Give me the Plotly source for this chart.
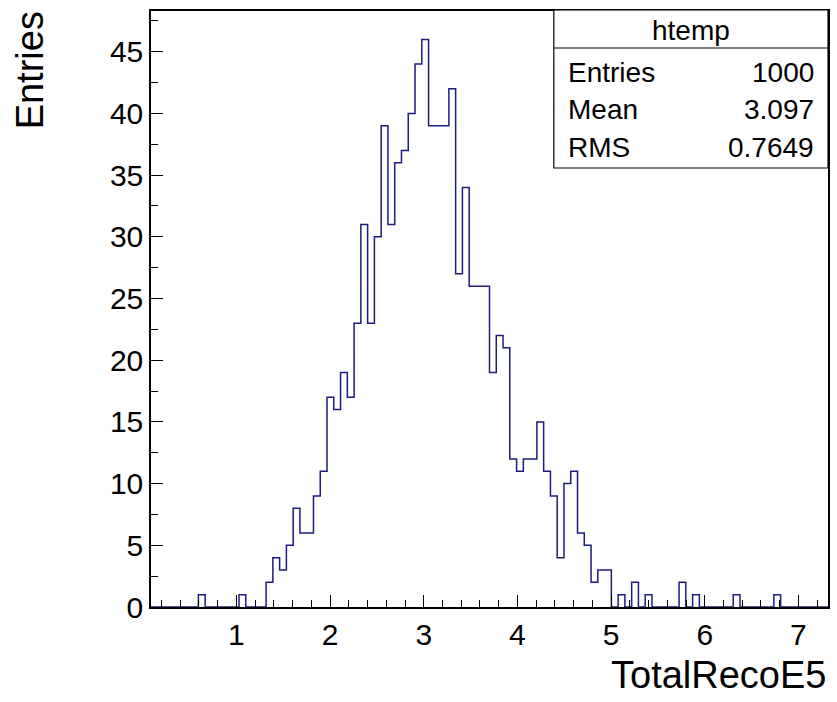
import plotly.graph_objects as go

# ---- data ----
x_min = 0.088
x_max = 7.316
counts = [
    0, 0, 0, 0, 0, 0, 0, 1, 0, 0,
    0, 0, 0, 1, 0, 0, 0, 2, 4, 3,
    5, 8, 6, 6, 9, 11, 17, 16, 19, 17,
    23, 31, 23, 30, 39, 31, 36, 37, 40, 44,
    46, 39, 39, 39, 42, 27, 34, 26, 26, 26,
    19, 22, 21, 12, 11, 12, 12, 15, 11, 9,
    4, 10, 11, 6, 5, 2, 3, 3, 0, 1,
    0, 2, 0, 1, 0, 0, 0, 0, 2, 0,
    1, 0, 0, 0, 0, 0, 1, 0, 0, 0,
    0, 0, 1, 0, 0, 0, 0, 0, 0, 0,
]
y_max = 48.3
x_title = "TotalRecoE5"
y_title = "Entries"
stats_title = "htemp"
stats_labels = ["Entries", "Mean", "RMS"]
stats_values = ["1000", "3.097", "0.7649"]

# ---- build step outline ----
nbins = len(counts)
bw = (x_max - x_min) / nbins
edges = [x_min + i * bw for i in range(nbins + 1)]
ys = counts + [counts[-1]]

FONT = "Liberation Sans, Arial, Helvetica, sans-serif"
W, H = 837, 702
L, R, T, B = 151, 7, 11, 95
pw, ph = W - L - R, H - T - B

def px(x):
    return (x - L) / pw

def py(y):
    return (H - B - y) / ph

fig = go.Figure()
fig.add_trace(go.Scatter(
    x=edges, y=ys, mode="lines", line_shape="hv",
    line=dict(color="#1c1c80", width=1.5),
    hoverinfo="skip", showlegend=False,
))

axis_common = dict(
    showline=True, linecolor="black", linewidth=1.5, mirror=True,
    showgrid=False, zeroline=False, ticks="inside", tickcolor="black",
    tickwidth=1, tickfont=dict(family=FONT, size=30, color="black"),
)
fig.update_xaxes(
    range=[x_min, x_max], tickmode="linear", tick0=0, dtick=1, ticklen=12,
    minor=dict(ticks="inside", ticklen=7, tick0=0, dtick=0.2, tickcolor="black"),
    **axis_common,
)
fig.update_yaxes(
    range=[0, y_max], tickmode="linear", tick0=0, dtick=5, ticklen=12,
    minor=dict(ticks="inside", ticklen=7, tick0=0, dtick=2.5, tickcolor="black"),
    **axis_common,
)

shapes = [
    dict(type="rect", xref="paper", yref="paper", x0=px(555), x1=1.0,
         y0=py(168), y1=py(10), line=dict(color="black", width=1.2),
         fillcolor="white", layer="above"),
    dict(type="line", xref="paper", yref="paper", x0=px(555), x1=1.0,
         y0=py(48), y1=py(48), line=dict(color="black", width=1.2)),
]

annotations = [
    dict(text=stats_title, xref="paper", yref="paper", x=(px(555) + 1.0) / 2,
         y=py(30), xanchor="center", yanchor="middle", showarrow=False,
         font=dict(family=FONT, size=28, color="black")),
    dict(text=y_title, xref="paper", yref="paper", x=px(30), y=py(70),
         xanchor="center", yanchor="middle", textangle=-90, showarrow=False,
         font=dict(family=FONT, size=38, color="black")),
    dict(text=x_title, xref="paper", yref="paper", x=1.0, y=py(675),
         xanchor="right", yanchor="middle", showarrow=False,
         font=dict(family=FONT, size=38, color="black")),
]
row_y = [72, 109, 147]
for lab, val, yy in zip(stats_labels, stats_values, row_y):
    annotations.append(dict(text=lab, xref="paper", yref="paper", x=px(567),
                            y=py(yy), xanchor="left", yanchor="middle",
                            showarrow=False,
                            font=dict(family=FONT, size=28, color="black")))
    annotations.append(dict(text=val, xref="paper", yref="paper", x=px(818),
                            y=py(yy), xanchor="right", yanchor="middle",
                            showarrow=False,
                            font=dict(family=FONT, size=28, color="black")))

fig.update_layout(
    width=W, height=H, margin=dict(l=L, r=R, t=T, b=B),
    paper_bgcolor="white", plot_bgcolor="white",
    shapes=shapes, annotations=annotations, showlegend=False,
)
fig.write_html("out.html")
